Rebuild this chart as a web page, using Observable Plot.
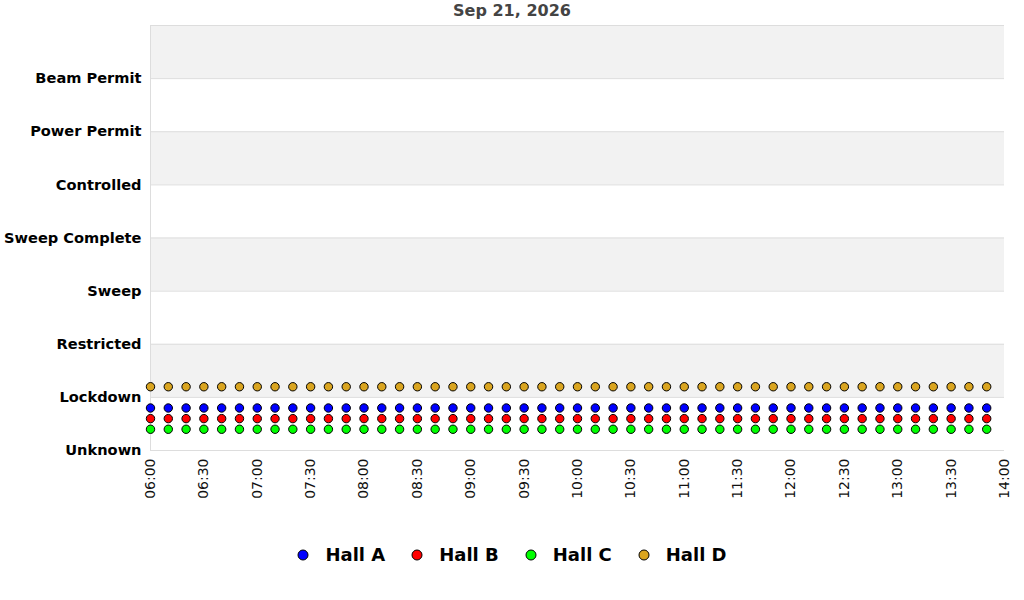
<!DOCTYPE html>
<html>
<head>
<meta charset="utf-8">
<script src="https://cdn.jsdelivr.net/npm/d3@7"></script>
<script src="https://cdn.jsdelivr.net/npm/@observablehq/plot@0.6"></script>
<style>
  body { margin: 0; background: #fff; font-family: "DejaVu Sans", sans-serif; }
  #title { height: 22px; line-height: 22px; text-align: center; font-weight: bold; font-size: 16px; color: #444; }
  #legend { display: flex; justify-content: center; align-items: center; gap: 26px; margin-top: 32px; }
  .item { display: flex; align-items: center; font-weight: bold; font-size: 18px; color: #000; }
  .item svg { margin-right: 16px; }
</style>
</head>
<body>
<div id="title">Sep 21, 2026</div>
<div id="chart"></div>
<div id="legend"></div>
<script>
const dateLabel = "2026-09-21";
const states = ["Unknown", "Lockdown", "Restricted", "Sweep", "Sweep Complete", "Controlled", "Power Permit", "Beam Permit"];
const times = ["06:00","06:10","06:20","06:30","06:40","06:50","07:00","07:10","07:20","07:30","07:40","07:50",
  "08:00","08:10","08:20","08:30","08:40","08:50","09:00","09:10","09:20","09:30","09:40","09:50",
  "10:00","10:10","10:20","10:30","10:40","10:50","11:00","11:10","11:20","11:30","11:40","11:50",
  "12:00","12:10","12:20","12:30","12:40","12:50","13:00","13:10","13:20","13:30","13:40","13:50"];
const halls = ["Hall A", "Hall B", "Hall C", "Hall D"];
const hallColors = ["#0000ff", "#ff0000", "#00ff00", "#daa520"];
const hallA = [0.8,0.8,0.8,0.8,0.8,0.8,0.8,0.8,0.8,0.8,0.8,0.8,0.8,0.8,0.8,0.8,0.8,0.8,0.8,0.8,0.8,0.8,0.8,0.8,
  0.8,0.8,0.8,0.8,0.8,0.8,0.8,0.8,0.8,0.8,0.8,0.8,0.8,0.8,0.8,0.8,0.8,0.8,0.8,0.8,0.8,0.8,0.8,0.8];
const hallB = [0.6,0.6,0.6,0.6,0.6,0.6,0.6,0.6,0.6,0.6,0.6,0.6,0.6,0.6,0.6,0.6,0.6,0.6,0.6,0.6,0.6,0.6,0.6,0.6,
  0.6,0.6,0.6,0.6,0.6,0.6,0.6,0.6,0.6,0.6,0.6,0.6,0.6,0.6,0.6,0.6,0.6,0.6,0.6,0.6,0.6,0.6,0.6,0.6];
const hallC = [0.4,0.4,0.4,0.4,0.4,0.4,0.4,0.4,0.4,0.4,0.4,0.4,0.4,0.4,0.4,0.4,0.4,0.4,0.4,0.4,0.4,0.4,0.4,0.4,
  0.4,0.4,0.4,0.4,0.4,0.4,0.4,0.4,0.4,0.4,0.4,0.4,0.4,0.4,0.4,0.4,0.4,0.4,0.4,0.4,0.4,0.4,0.4,0.4];
const hallD = [1.2,1.2,1.2,1.2,1.2,1.2,1.2,1.2,1.2,1.2,1.2,1.2,1.2,1.2,1.2,1.2,1.2,1.2,1.2,1.2,1.2,1.2,1.2,1.2,
  1.2,1.2,1.2,1.2,1.2,1.2,1.2,1.2,1.2,1.2,1.2,1.2,1.2,1.2,1.2,1.2,1.2,1.2,1.2,1.2,1.2,1.2,1.2,1.2];
const xStart = "06:00", xEnd = "14:00";

const toDate = t => new Date(`${dateLabel}T${t}:00Z`);
const series = [hallA, hallB, hallC, hallD];
const points = [];
series.forEach((vals, i) => vals.forEach((v, j) => points.push({hall: halls[i], time: toDate(times[j]), value: v})));
const bands = [];
for (let k = 1; k <= states.length; k += 2) bands.push({y1: k, y2: k + 1});
const gridVals = d3.range(0, states.length + 1);

const chart = Plot.plot({
  width: 1024,
  height: 490,
  marginTop: 3,
  marginLeft: 150,
  marginRight: 20,
  marginBottom: 62,
  style: {fontFamily: "DejaVu Sans, sans-serif", background: "#fff"},
  x: {type: "utc", domain: [toDate(xStart), toDate(xEnd)], label: null},
  y: {domain: [0, states.length], label: null},
  color: {domain: halls, range: hallColors},
  marks: [
    Plot.rect(bands, {x1: toDate(xStart), x2: toDate(xEnd), y1: "y1", y2: "y2", fill: "#f2f2f2"}),
    Plot.ruleY(gridVals, {stroke: "#dddddd", strokeWidth: 1}),
    Plot.ruleX([toDate(xStart)], {stroke: "#dddddd", strokeWidth: 1}),
    Plot.axisY(d3.range(0, states.length), {tickSize: 0, tickPadding: 9, tickFormat: d => states[d], fontSize: 14.6, fontWeight: "bold", fill: "#000", label: null}),
    Plot.axisX({ticks: d3.utcMinute.every(30), tickFormat: d3.utcFormat("%H:%M"), tickSize: 0, tickPadding: 8, tickRotate: -90, fontSize: 14, fill: "#111", label: null}),
    Plot.dot(points, {x: "time", y: "value", fill: "hall", stroke: "#000", strokeWidth: 1, r: 4.2})
  ]
});
document.getElementById("chart").appendChild(chart);

const legend = document.getElementById("legend");
halls.forEach((h, i) => {
  const item = document.createElement("div");
  item.className = "item";
  item.innerHTML = `<svg width="12" height="12"><circle cx="6" cy="6" r="5" fill="${hallColors[i]}" stroke="#000" stroke-width="1"/></svg><span>${h}</span>`;
  legend.appendChild(item);
});
</script>
</body>
</html>
